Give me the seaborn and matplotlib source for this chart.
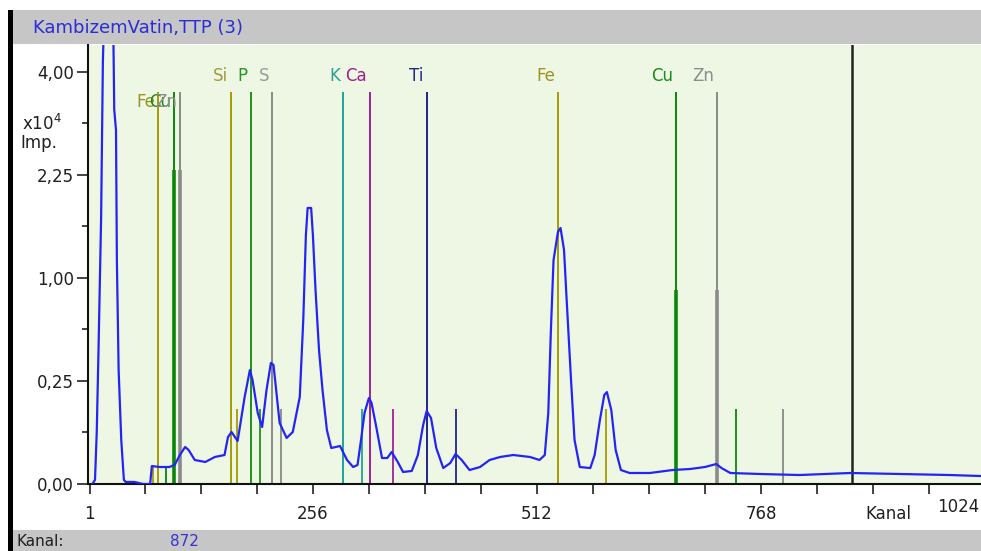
import numpy as np
import pandas as pd
import matplotlib
matplotlib.use("Agg")
import matplotlib.pyplot as plt
import seaborn as sns
from matplotlib.patches import Rectangle
from matplotlib.ticker import FixedLocator, FixedFormatter, NullFormatter

# ---------------- data ----------------
channel = [4, 7, 9, 11, 14, 16, 18, 21, 25, 28, 29, 31, 32, 34, 37, 40, 42, 52, 62, 70,
           72, 81, 92, 98, 104, 110, 114, 121, 133, 144, 155, 159, 163, 170, 178, 184, 187, 193, 198, 203,
           208, 211, 218, 226, 233, 241, 245, 248, 250, 254, 256, 259, 263, 267, 272, 277, 287, 295, 302, 307,
           311, 315, 320, 323, 328, 335, 341, 346, 353, 359, 369, 376, 382, 386, 391, 397, 405, 413, 419, 426,
           435, 447, 458, 470, 485, 504, 515, 521, 525, 528, 531, 536, 539, 543, 546, 551, 555, 561, 573, 578,
           584, 589, 592, 597, 602, 608, 618, 641, 667, 687, 704, 717, 723, 733, 767, 812, 870, 927, 984, 1019]
counts = [0.0, 0.0004, 0.064, 0.42, 1.68, 4.2, 5.6, 6.8, 6.2, 4.7, 3.3, 2.95, 1.18, 0.306, 0.046, 0.0004, 0.0001, 0.0001, 0.0, 0.0,
          0.0076, 0.0068, 0.0068, 0.0085, 0.0198, 0.0323, 0.0272, 0.0136, 0.0114, 0.0172, 0.0198, 0.052, 0.0637, 0.0436, 0.178, 0.306, 0.255, 0.119, 0.0766, 0.208,
          0.345, 0.334, 0.0877, 0.0499, 0.0637, 0.178, 0.634, 1.461, 1.795, 1.795, 1.461, 0.887, 0.423, 0.208, 0.0687, 0.0305, 0.034, 0.0136, 0.0068, 0.0085,
          0.0456, 0.119, 0.174, 0.155, 0.082, 0.0159, 0.0159, 0.0241, 0.0114, 0.0034, 0.004, 0.0198, 0.082, 0.1256, 0.1026, 0.0305, 0.006, 0.0104, 0.0212, 0.0136,
          0.0046, 0.0068, 0.0136, 0.0172, 0.0198, 0.0172, 0.0136, 0.0198, 0.119, 0.559, 1.18, 1.496, 1.544, 1.29, 0.798, 0.255, 0.0456, 0.0068, 0.006, 0.0198,
          0.0965, 0.187, 0.199, 0.129, 0.0272, 0.0046, 0.00285, 0.00285, 0.0046, 0.0053, 0.0068, 0.0094, 0.006, 0.00285, 0.00236, 0.0019, 0.00285, 0.00236, 0.0019, 0.0015]

# element marker lines (main lines, labelled)
elem_names = ["Fe", "Cu", "Zn", "Si", "P", "S", "K", "Ca", "Ti", "Fe", "Cu", "Zn"]
elem_channels = [79, 97, 104, 162, 185, 209, 290, 321, 386, 536, 671, 718]
elem_heights = [3.62] * 12
elem_series = ["L", "L", "L", "K", "K", "K", "K", "K", "K", "K", "K", "K"]
# secondary (beta / overlap) lines
sec_channels = [73, 88, 97, 104, 169, 195, 219, 312, 347, 419, 591, 671, 718, 739, 793]
sec_heights = [0.0076, 0.006, 2.32, 2.32, 0.133, 0.133, 0.133, 0.133, 0.133, 0.133, 0.133, 0.887, 0.887, 0.133, 0.133]
sec_elem = ["Fe", "Cu", "Cu", "Zn", "Si", "P", "S", "K", "Ca", "Ti", "Fe", "Cu", "Zn", "Cu", "Zn"]
cursor_channel = 872

y_ticks = [0.0, 0.25, 1.0, 2.25, 4.0]
y_ticklabels = ["0,00", "0,25", "1,00", "2,25", "4,00"]
y_minor = [0.0625, 0.5625, 1.5625, 3.0625]
x_ticks = [1, 256, 512, 768]
x_ticklabels = ["1", "256", "512", "768"]
x_minor = [64, 128, 192, 320, 384, 448, 576, 640, 704, 832, 896, 960]

line_colors = {"Fe": "#a39c00", "Cu": "#0a860a", "Zn": "#8a8a8a", "Si": "#a39c00", "P": "#1f8f1f",
               "S": "#8a8a8a", "K": "#1fa39a", "Ca": "#a0209a", "Ti": "#232388"}
label_colors = {"Fe": "#9a9420", "Cu": "#1a8a1a", "Zn": "#8c8c8c", "Si": "#a09a3a", "P": "#2a962a",
                "S": "#9a9a9a", "K": "#2aa098", "Ca": "#a02088", "Ti": "#25258a"}

# ---------------- figure ----------------
sns.set_style("white")
plt.rcParams['font.family'] = ['DejaVu Sans']
W, H = 981, 551
fig = plt.figure(figsize=(W / 100, H / 100), dpi=100)
fig.patch.set_facecolor("white")

# window chrome
fig.patches.append(Rectangle((13 / W, (H - 44) / H), (W - 13) / W, 34 / H, transform=fig.transFigure,
                             facecolor="#c6c6c6", edgecolor="none", zorder=0))
fig.patches.append(Rectangle((13 / W, 0), (W - 13) / W, 21 / H, transform=fig.transFigure,
                             facecolor="#c6c6c6", edgecolor="none", zorder=0))
fig.patches.append(Rectangle((8 / W, 0), 5 / W, (H - 10) / H, transform=fig.transFigure,
                             facecolor="black", edgecolor="none", zorder=0))

ax = fig.add_axes([88 / W, 67 / H, (W - 88) / W, (506 - 67) / H])
ax.set_facecolor("#edf7e3")
ax.set_yscale('function', functions=(lambda v: np.sqrt(np.clip(v, 0, None)), lambda s: np.square(s)))

# element lines
for ch, h, el in zip(elem_channels, elem_heights, elem_names):
    ax.vlines(ch, 0, h, colors=line_colors[el], linewidth=1.4, zorder=2)
for ch, h, el in zip(sec_channels, sec_heights, sec_elem):
    lw = 2.6 if h > 0.5 else 1.3
    ax.vlines(ch, 0, h, colors=line_colors[el], linewidth=lw, zorder=2)
ax.axvline(cursor_channel, color="#222222", linewidth=1.8, zorder=2)

# labels
for ch, h, el, ser in zip(elem_channels, elem_heights, elem_names, elem_series):
    ly = 3.92 if ser == "K" else 3.44
    ax.annotate(el, xy=(ch, ly), xytext=(-2, 0), textcoords="offset points", ha="right", va="center",
                fontsize=12, color=label_colors[el], zorder=3)

# spectrum
df = pd.DataFrame({"Kanal": channel, "Imp": counts})
sns.lineplot(data=df, x="Kanal", y="Imp", color="#2424f5", linewidth=1.6, ax=ax, zorder=4)

ax.set_xlim(-1, 1019.5)
ax.set_ylim(0, 4.54)
ax.set_xlabel("")
ax.set_ylabel("")

ax.yaxis.set_major_locator(FixedLocator(y_ticks))
ax.yaxis.set_major_formatter(FixedFormatter(y_ticklabels))
ax.yaxis.set_minor_locator(FixedLocator(y_minor))
ax.yaxis.set_minor_formatter(NullFormatter())
ax.xaxis.set_major_locator(FixedLocator(x_ticks))
ax.xaxis.set_major_formatter(FixedFormatter(x_ticklabels))
ax.xaxis.set_minor_locator(FixedLocator(x_minor))
ax.xaxis.set_minor_formatter(NullFormatter())

ax.tick_params(axis="y", which="major", direction="out", length=8, width=1.2, color="#222222",
               labelsize=12, labelcolor="#202020", pad=2, left=True)
ax.tick_params(axis="y", which="minor", direction="out", length=4, width=1.2, color="#222222", left=True)
ax.tick_params(axis="x", which="both", direction="out", length=7, width=1.2, color="#222222",
               labelsize=12, labelcolor="#202020", pad=8, bottom=True)

for s in ["top", "right"]:
    ax.spines[s].set_visible(False)
for s in ["left", "bottom"]:
    ax.spines[s].set_color("#111111")
    ax.spines[s].set_linewidth(1.5)

# texts
fig.text(33 / W, (H - 28) / H, "KambizemVatin,TTP (3)", color="#2b2bd8", fontsize=13, va="center", ha="left")
fig.text(22 / W, (H - 124) / H, "x10$^{4}$", color="#202020", fontsize=12, va="center", ha="left")
fig.text(20 / W, (H - 143) / H, "Imp.", color="#202020", fontsize=12, va="center", ha="left")
fig.text(865 / W, (H - 514) / H, "Kanal", color="#202020", fontsize=12, va="center", ha="left")
fig.text(937 / W, (H - 507) / H, "1024", color="#202020", fontsize=12, va="center", ha="left")
fig.text(16 / W, 10 / H, "Kanal:", color="#202020", fontsize=11, va="center", ha="left")
fig.text(170 / W, 10 / H, "872", color="#3434d0", fontsize=11, va="center", ha="left")

fig.savefig("out.png", dpi=100)
